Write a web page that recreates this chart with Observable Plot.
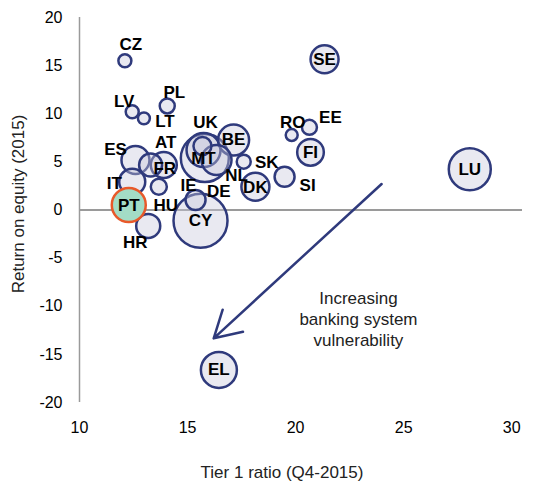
<!DOCTYPE html>
<html><head><meta charset="utf-8">
<script src="https://cdn.jsdelivr.net/npm/d3@7"></script>
<script src="https://cdn.jsdelivr.net/npm/@observablehq/plot@0.6"></script>
<style>body{margin:0;background:#fff}</style>
</head><body><div id="chart"></div>
<script>
const countries = ["CZ","LV","LT","PL","SE","RO","EE","FI","SI","LU","EL","CY","IT","HR","HU","ES","AT","FR","UK","DE","NL","MT","BE","SK","DK","IE","PT"];
const tier1 =     [12.10,12.44,12.98,14.06,21.34,19.82,20.64,20.69,19.49,28.06,16.45,15.60,12.44,13.18,13.67,12.59,13.29,13.90,15.74,15.80,16.34,15.69,17.13,17.60,18.14,15.37,12.28];
const roe =       [15.51,10.21,9.52,10.81,15.66,7.79,8.59,5.99,3.46,4.23,-16.62,-1.11,2.94,-1.66,2.42,5.19,4.68,4.68,6.23,5.40,5.19,6.65,7.27,5.02,2.42,1.04,0.52];
const bankSize =  [5.8,5.8,4.9,7.7,26.9,4.9,7.7,24.3,13.7,60.5,44.4,100,23.2,19.8,8.8,26.9,18.1,23.2,39.6,79,30.9,11.1,33,6.7,26.9,13.7,39.6];
const highlighted = "PT";
const xTicks = [10,15,20,25,30];
const yTicks = [-20,-15,-10,-5,0,5,10,15,20];
const xTitle = "Tier 1 ratio (Q4-2015)";
const yTitle = "Return on equity (2015)";
const noteText = "Increasing\nbanking system\nvulnerability";
const notePos = [{x: 22.91, y: -11.22}];
const arrowPts = [{x1: 23.98, y1: 2.70, x2: 16.21, y2: -13.33}];

// label layout (pixel offsets from bubble centre)
const labelDx = [6,-8,21,7,0,1,21,0,23,0,0,0,-18,-13,7,-20,15,1,2,14,20,1,0,23,0,-7,0];
const labelDy = [-16,-10,3,-13,0,-12,-10,0,9,0,0,0,2,17,19,-10,-22,4,-27,34,16,13,0,1,1,-14,1];

const rows = countries.map((c, i) => ({c, tier1: tier1[i], roe: roe[i], size: bankSize[i], dx: labelDx[i], dy: labelDy[i]}));
const others = rows.filter(d => d.c !== highlighted);
const hl = rows.filter(d => d.c === highlighted);

const labelMarks = rows.map(d => Plot.text([d], {x: "tier1", y: "roe", text: "c", dx: d.dx, dy: d.dy, fontSize: 17, fontWeight: "bold", fill: "#000"}));

const chart = Plot.plot({
  width: 534, height: 483,
  marginLeft: 79, marginRight: 12, marginTop: 17, marginBottom: 81,
  x: {domain: [10, 30.5]},
  y: {domain: [-20, 20]},
  r: {type: "sqrt", domain: [0, 100], range: [0, 27]},
  style: {fontFamily: "'Liberation Sans', Arial, sans-serif", fontSize: "16px", color: "#000", background: "#fff"},
  marks: [
    Plot.ruleY([0], {stroke: "#9a9a9a", strokeWidth: 2}),
    Plot.ruleX([10], {stroke: "#9a9a9a", strokeWidth: 1.5}),
    Plot.axisX({ticks: xTicks, tickSize: 0, tickPadding: 19, tickFormat: d => String(d), label: null, fontSize: 16}),
    Plot.axisY({ticks: yTicks, tickSize: 0, tickPadding: 17, tickFormat: d => String(d), label: null, fontSize: 16}),
    Plot.dot(others, {x: "tier1", y: "roe", r: "size", fill: "#c8c8dc", fillOpacity: 0.4, stroke: "#2f3a7c", strokeWidth: 2.5}),
    Plot.dot(hl, {x: "tier1", y: "roe", r: "size", fill: "#a3dcc6", stroke: "#e8592a", strokeWidth: 2.5}),
    Plot.arrow(arrowPts, {x1: "x1", y1: "y1", x2: "x2", y2: "y2", stroke: "#2f3a7c", strokeWidth: 2.5, headLength: 18}),
    Plot.text(notePos, {x: "x", y: "y", text: () => noteText, fontSize: 17, lineHeight: 1.24, fill: "#222", textAnchor: "middle"}),
    ...labelMarks,
    Plot.text([xTitle], {frameAnchor: "bottom", dy: 70, dx: -19, textAnchor: "middle", lineAnchor: "middle", fontSize: 17, fill: "#222"}),
    Plot.text([yTitle], {frameAnchor: "left", rotate: -90, dx: -61, dy: -6, textAnchor: "middle", lineAnchor: "middle", fontSize: 17, fill: "#222"})
  ]
});
document.getElementById("chart").appendChild(chart);
</script>
</body></html>
